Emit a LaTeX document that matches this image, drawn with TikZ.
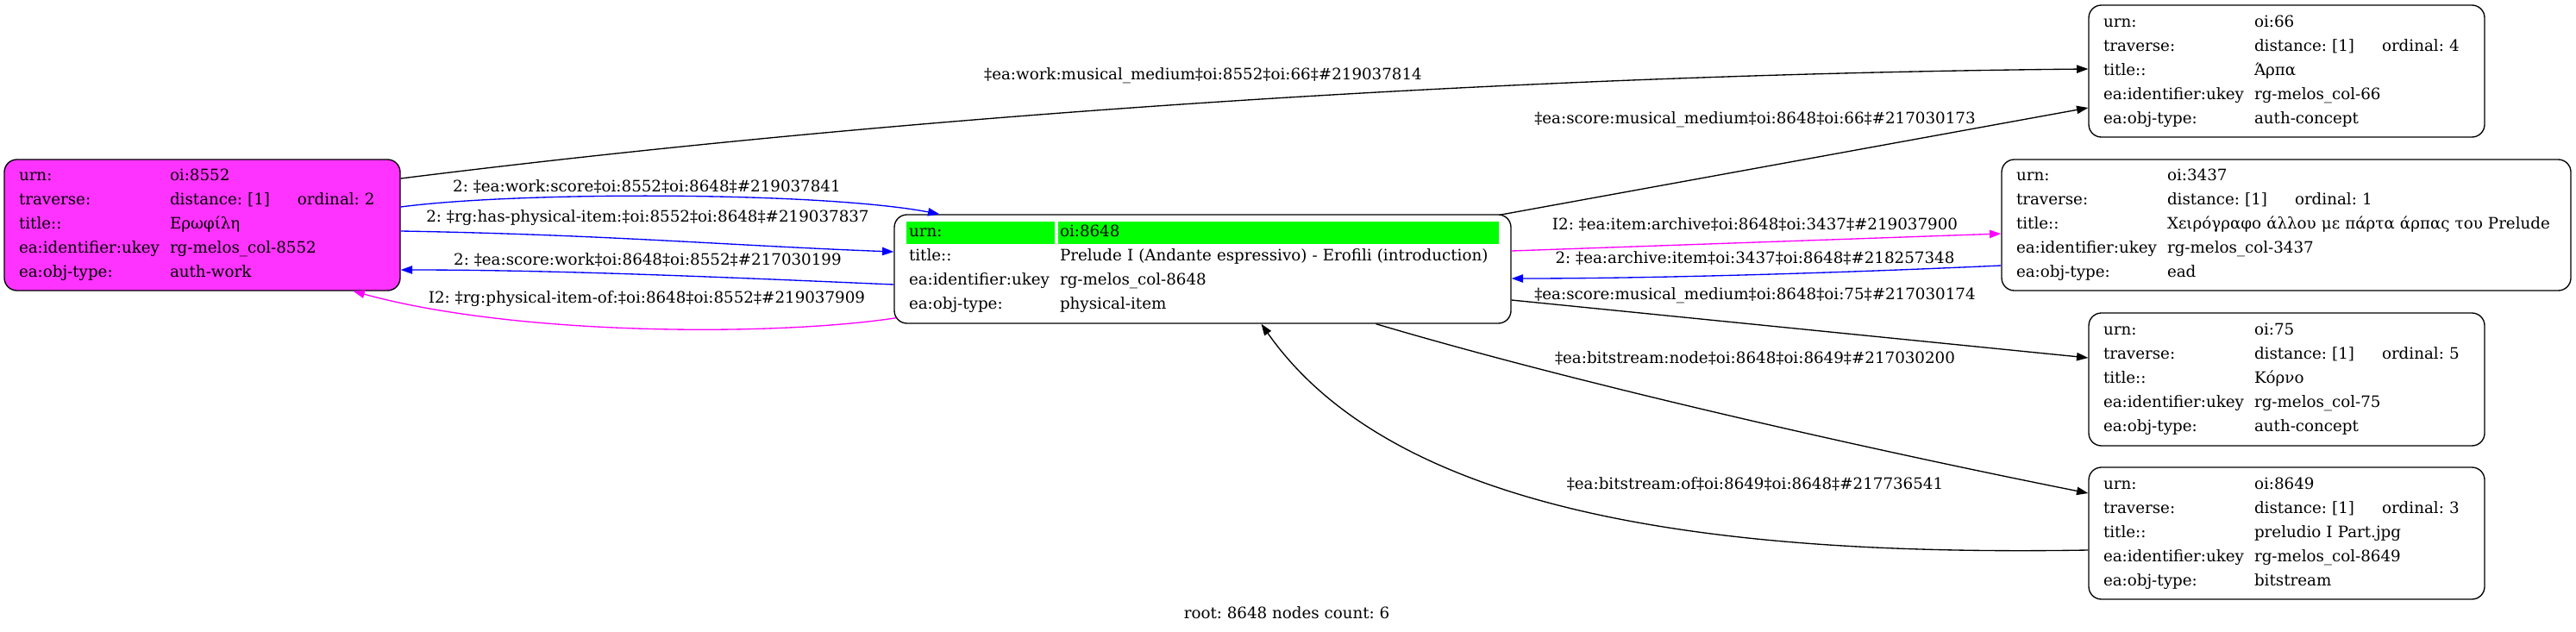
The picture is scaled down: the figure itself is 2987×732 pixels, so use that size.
\documentclass[tikz,border=0pt]{standalone}
\usepackage{fontspec}
\setmainfont{DejaVu Serif}
\usetikzlibrary{arrows.meta}
\definecolor{magfill}{RGB}{255,51,255}
\definecolor{magline}{RGB}{255,0,255}
\definecolor{blueline}{RGB}{0,0,255}
\definecolor{gcell}{RGB}{0,255,0}
\frenchspacing
\newcommand{\rowA}[3]{\mbox{\makebox[131.25pt][l]{#1}\makebox[111pt][l]{#2}#3}}
\newcommand{\rowB}[2]{\mbox{\makebox[131.25pt][l]{#1}#2}}
\begin{document}
\begin{tikzpicture}[x=0.75pt,y=-0.75pt,
  font=\fontsize{13.7}{21}\selectfont\frenchspacing,
  box/.style={draw=black, line width=1pt, rounded corners=11pt, inner sep=0pt, align=left},
  sbox/.style={box, minimum width=344.25pt, text width=318.75pt},
  lbl/.style={inner sep=0pt},
  edge/.style={line width=1pt, -{Triangle[length=10pt,width=7pt]}},
]
\useasboundingbox (0,0) rectangle (2987,732);

% green header cells of root node
\fill[gcell] (1051,257) rectangle (1223,283);
\fill[gcell] (1226.5,257) rectangle (1738,283);

% nodes
\node[sbox, fill=magfill, minimum height=114pt] (n8552) at (234.5,261) {%
\rowA{urn:}{oi:8552}{}\\
\rowA{traverse:}{distance: [1]}{ordinal: 2}\\
\rowA{title::}{Ερωφίλη}{}\\
\rowA{ea:identifier:ukey}{rg-melos\_col-8552}{}\\
\rowA{ea:obj-type:}{auth-work}{}};

\node[box, minimum width=536.25pt, minimum height=94.5pt, text width=510.75pt] (n8648) at (1394.5,312) {%
\rowB{urn:}{oi:8648}\\
\rowB{title::}{Prelude I (Andante espressivo) - Erofili (introduction)}\\
\rowB{ea:identifier:ukey}{rg-melos\_col-8648}\\
\rowB{ea:obj-type:}{physical-item}};

\node[sbox, fill=white, minimum height=114.75pt] (n66) at (2651.5,82.5) {%
\rowA{urn:}{oi:66}{}\\
\rowA{traverse:}{distance: [1]}{ordinal: 4}\\
\rowA{title::}{Άρπα}{}\\
\rowA{ea:identifier:ukey}{rg-melos\_col-66}{}\\
\rowA{ea:obj-type:}{auth-concept}{}};

\node[box, fill=white, minimum width=495pt, minimum height=114pt, text width=469.5pt] (n3437) at (2651,261) {%
\rowA{urn:}{oi:3437}{}\\
\rowA{traverse:}{distance: [1]}{ordinal: 1}\\
\rowA{title::}{Χειρόγραφο άλλου με πάρτα άρπας του Prelude}{}\\
\rowA{ea:identifier:ukey}{rg-melos\_col-3437}{}\\
\rowA{ea:obj-type:}{ead}{}};

\node[sbox, fill=white, minimum height=115.5pt] (n75) at (2651.5,440) {%
\rowA{urn:}{oi:75}{}\\
\rowA{traverse:}{distance: [1]}{ordinal: 5}\\
\rowA{title::}{Κόρνο}{}\\
\rowA{ea:identifier:ukey}{rg-melos\_col-75}{}\\
\rowA{ea:obj-type:}{auth-concept}{}};

\node[sbox, fill=white, minimum height=114.75pt] (n8649) at (2651.5,618.5) {%
\rowA{urn:}{oi:8649}{}\\
\rowA{traverse:}{distance: [1]}{ordinal: 3}\\
\rowA{title::}{preludio I Part.jpg}{}\\
\rowA{ea:identifier:ukey}{rg-melos\_col-8649}{}\\
\rowA{ea:obj-type:}{bitstream}{}};

% edges
\draw[edge] ([shift={(0,-54)}]n8552.east) .. controls (1100,127.5) and (1800,86) .. ([shift={(0,-2.5)}]n66.west);
\draw[edge] ([shift={(-14,1)}]n8648.north east) -- ([shift={(0,42.5)}]n66.west);
\draw[edge,blueline] ([shift={(0,-21)}]n8552.east) .. controls (600,222) and (950,222) .. ([shift={(53,0)}]n8648.north west);
\draw[edge,blueline] ([shift={(0,7)}]n8552.east) .. controls (700,272) and (850,285) .. ([shift={(0,-20)}]n8648.west);
\draw[edge,blueline] ([shift={(0,18)}]n8648.west) .. controls (850,322) and (650,313) .. ([shift={(0,52)}]n8552.east);
\draw[edge,magline] ([shift={(3,-7)}]n8648.south west) .. controls (900,390) and (600,390) .. ([shift={(175,0)}]n8552.south);
\draw[edge,magline] ([shift={(0,-21)}]n8648.east) -- ([shift={(0,10)}]n3437.west);
\draw[edge,blueline] ([shift={(0,47)}]n3437.west) .. controls (2100,318) and (1900,323) .. ([shift={(0,11)}]n8648.east);
\draw[edge] ([shift={(0,36)}]n8648.east) -- ([shift={(0,-25)}]n75.west);
\draw[edge] ([shift={(201,0)}]n8648.south) .. controls (1846,450) and (2200,528) .. ([shift={(0,-46.5)}]n8649.west);
\draw[edge] ([shift={(0,19.5)}]n8649.west) .. controls (2000,645) and (1620,600) .. ([shift={(68,0)}]n8648.south);

% edge labels
\node[lbl] (l1) at (1395,88) {‡ea:work:musical\_medium‡oi:8552‡oi:66‡\#219037814};
\node[lbl] (l2) at (2035,139) {‡ea:score:musical\_medium‡oi:8648‡oi:66‡\#217030173};
\node[lbl] (l3) at (750,216) {2: ‡ea:work:score‡oi:8552‡oi:8648‡\#219037841};
\node[lbl] (l4) at (751,253) {2: ‡rg:has-physical-item:‡oi:8552‡oi:8648‡\#219037837};
\node[lbl] (l5) at (751,301) {2: ‡ea:score:work‡oi:8648‡oi:8552‡\#217030199};
\node[lbl] (l6) at (750,347) {I2: ‡rg:physical-item-of:‡oi:8648‡oi:8552‡\#219037909};
\node[lbl] (l7) at (2035,260) {I2: ‡ea:item:archive‡oi:8648‡oi:3437‡\#219037900};
\node[lbl] (l8) at (2035,299) {2: ‡ea:archive:item‡oi:3437‡oi:8648‡\#218257348};
\node[lbl] (l9) at (2035,343) {‡ea:score:musical\_medium‡oi:8648‡oi:75‡\#217030174};
\node[lbl] (l10) at (2035,415) {‡ea:bitstream:node‡oi:8648‡oi:8649‡\#217030200};
\node[lbl] (l11) at (2035,561) {‡ea:bitstream:of‡oi:8649‡oi:8648‡\#217736541};
\node[lbl] (foot) at (1492,711) {root: 8648 nodes count: 6};
\end{tikzpicture}
\end{document}
